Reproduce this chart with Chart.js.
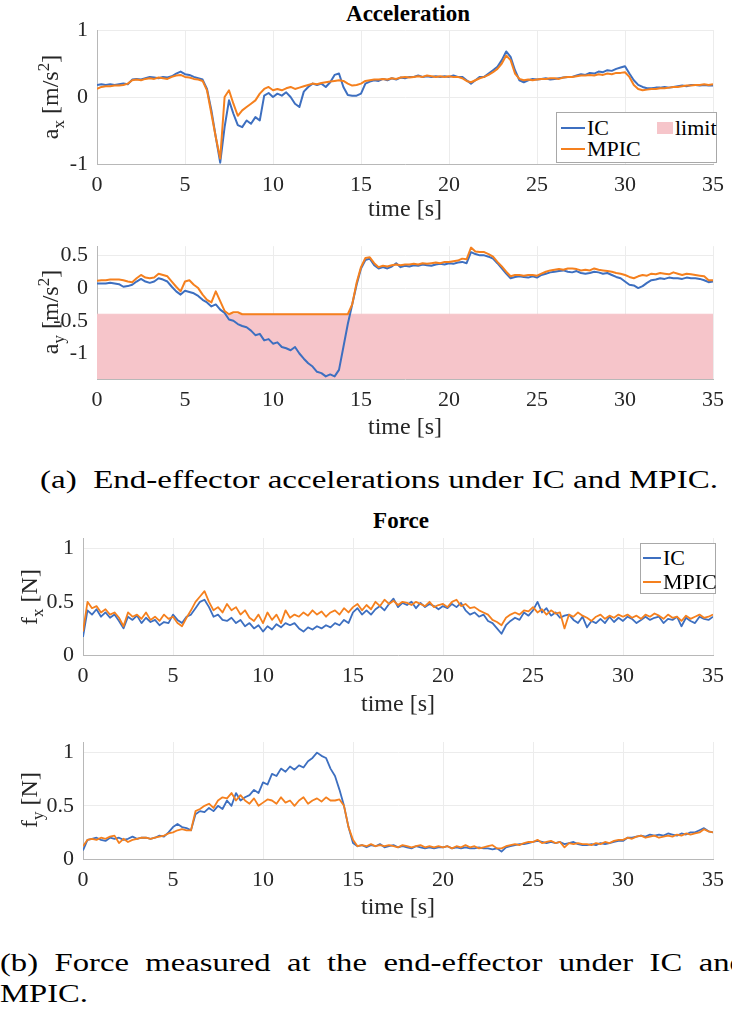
<!DOCTYPE html>
<html>
<head>
<meta charset="UTF-8">
<title>Acceleration and force, IC vs MPIC</title>
<script src="https://cdn.jsdelivr.net/npm/chart.js"></script>
<style>
  body { margin:0; background:#fff; width:732px; height:1016px; overflow:hidden; position:relative;
         font-family:"Liberation Serif", "Times New Roman", serif; color:#000; }
  canvas { position:absolute; left:0; }
  .ttl { position:absolute; font-weight:bold; font-size:23px; transform:translate(-50%,-50%); white-space:nowrap; }
  .ylab { position:absolute; font-size:24px; line-height:1; color:#262626; white-space:nowrap;
          transform:translate(-50%,-50%) rotate(-90deg); }
  .ylab sub, .ylab sup { font-size:17px; line-height:0; }
  .legend { position:absolute; border:1px solid #a8a8a8; background:#fff; }
  .lg-line { position:absolute; height:2px; }
  .lg-patch { position:absolute; }
  .lg-text { position:absolute; font-size:22px; line-height:1; transform:translateY(-50%); white-space:nowrap; }
  .cap { position:absolute; left:0; font-size:25px; line-height:1; white-space:nowrap; transform-origin:0 50%; }
  .cap-row { display:flex; justify-content:space-between; }
</style>
</head>
<body>
  <div class="ttl" style="left:408px; top:14px;">Acceleration</div>
  <canvas id="axChart" width="732" height="224" style="top:0px;"></canvas>
  <canvas id="ayChart" width="732" height="218" style="top:224px;"></canvas>
  <div class="ylab" style="left:50px; top:97px;">a<sub>x</sub> [m/s<sup>2</sup>]</div>
  <div class="ylab" style="left:50px; top:312px;">a<sub>y</sub> [m/s<sup>2</sup>]</div>
  <div id="legAcc" class="legend" style="left:556px; top:112px; width:159px; height:49px;"></div>

  <div id="capA" class="cap" style="top:479px;">(a)&nbsp; End-effector accelerations under IC and MPIC.</div>

  <div class="ttl" style="left:401px; top:521px;">Force</div>
  <canvas id="fxChart" width="732" height="219" style="top:500px;"></canvas>
  <canvas id="fyChart" width="732" height="203" style="top:719px;"></canvas>
  <div class="ylab" style="left:29px; top:597px;">f<sub>x</sub> [N]</div>
  <div class="ylab" style="left:29px; top:800px;">f<sub>y</sub> [N]</div>
  <div id="legForce" class="legend" style="left:640px; top:543px; width:74px; height:49px;"></div>

  <div id="capB1" class="cap cap-row" style="top:962px;">
    <span>(b)</span><span>Force</span><span>measured</span><span>at</span><span>the</span><span>end-effector</span><span>under</span><span>IC</span><span>and</span>
  </div>
  <div id="capB2" class="cap" style="top:993px;">MPIC.</div>

<script>
  // sample spacing of all recorded signals (s)
  const TIME_STEP = 0.25;
  const X_TICKS  = [0, 5, 10, 15, 20, 25, 30, 35];
  const AX_TICKS = [-1, 0, 1];
  const AY_TICKS = [-1, -0.5, 0, 0.5];
  const F_TICKS  = [0, 0.5, 1];
  const AY_LIMIT = -0.4;

  // a_x [m/s^2], one row = 2 s
  const axIC = [
    0.18, 0.19, 0.18, 0.19, 0.18, 0.19, 0.20, 0.19,
    0.26, 0.27, 0.26, 0.28, 0.30, 0.29, 0.28, 0.30,
    0.29, 0.31, 0.35, 0.38, 0.34, 0.33, 0.30, 0.28,
    0.26, 0.12, -0.20, -0.60, -0.98, -0.45, -0.05, -0.25,
    -0.42, -0.45, -0.35, -0.40, -0.30, -0.35, 0.02, 0.06,
    0.00, 0.05, 0.02, 0.07, 0.00, -0.10, -0.15, 0.08,
    0.15, 0.20, 0.18, 0.20, 0.15, 0.22, 0.33, 0.35,
    0.15, 0.03, 0.02, 0.02, 0.05, 0.20, 0.23, 0.25,
    0.24, 0.27, 0.25, 0.28, 0.26, 0.29, 0.28, 0.30,
    0.30, 0.32, 0.30, 0.31, 0.30, 0.31, 0.30, 0.31,
    0.30, 0.32, 0.30, 0.30, 0.25, 0.20, 0.25, 0.30,
    0.30, 0.35, 0.40, 0.45, 0.55, 0.68, 0.60, 0.40,
    0.25, 0.22, 0.25, 0.27, 0.26, 0.27, 0.28, 0.26,
    0.27, 0.28, 0.29, 0.30, 0.30, 0.32, 0.34, 0.33,
    0.36, 0.35, 0.38, 0.37, 0.40, 0.39, 0.42, 0.44,
    0.46, 0.35, 0.25, 0.18, 0.15, 0.13, 0.13, 0.14,
    0.14, 0.15, 0.14, 0.15, 0.16, 0.17, 0.16, 0.18,
    0.18, 0.17, 0.18, 0.17, 0.17
  ];
  const axMPIC = [
    0.12, 0.15, 0.16, 0.16, 0.17, 0.17, 0.18, 0.20,
    0.25, 0.26, 0.25, 0.27, 0.28, 0.27, 0.29, 0.28,
    0.27, 0.30, 0.32, 0.33, 0.30, 0.29, 0.27, 0.26,
    0.24, 0.10, -0.25, -0.60, -0.92, 0.00, 0.10, -0.10,
    -0.28, -0.20, -0.15, -0.10, -0.05, 0.05, 0.12, 0.15,
    0.10, 0.12, 0.10, 0.13, 0.15, 0.12, 0.14, 0.16,
    0.18, 0.20, 0.19, 0.21, 0.22, 0.23, 0.24, 0.25,
    0.24, 0.20, 0.17, 0.18, 0.20, 0.24, 0.25, 0.26,
    0.26, 0.27, 0.26, 0.28, 0.27, 0.29, 0.30, 0.29,
    0.30, 0.31, 0.30, 0.32, 0.31, 0.30, 0.31, 0.30,
    0.31, 0.30, 0.30, 0.28, 0.24, 0.22, 0.25, 0.28,
    0.30, 0.33, 0.37, 0.42, 0.50, 0.62, 0.55, 0.35,
    0.27, 0.25, 0.26, 0.25, 0.26, 0.27, 0.27, 0.28,
    0.28, 0.27, 0.29, 0.30, 0.30, 0.31, 0.32, 0.32,
    0.33, 0.32, 0.34, 0.33, 0.35, 0.34, 0.36, 0.36,
    0.37, 0.30, 0.18, 0.12, 0.10, 0.11, 0.12, 0.12,
    0.13, 0.13, 0.14, 0.15, 0.15, 0.16, 0.17, 0.17,
    0.18, 0.18, 0.19, 0.18, 0.19
  ];

  // a_y [m/s^2]
  const ayIC = [
    0.07, 0.07, 0.07, 0.08, 0.07, 0.06, 0.02, 0.03,
    0.05, 0.10, 0.14, 0.10, 0.08, 0.10, 0.15, 0.13,
    0.10, 0.02, -0.05, -0.10, -0.04, -0.06, -0.08, -0.12,
    -0.18, -0.22, -0.28, -0.25, -0.33, -0.38, -0.48, -0.50,
    -0.55, -0.58, -0.60, -0.65, -0.72, -0.70, -0.80, -0.78,
    -0.85, -0.83, -0.90, -0.92, -0.95, -0.90, -1.00, -1.08,
    -1.15, -1.20, -1.28, -1.30, -1.35, -1.32, -1.35, -1.25,
    -0.90, -0.55, -0.25, 0.05, 0.30, 0.43, 0.45, 0.35,
    0.30, 0.32, 0.30, 0.33, 0.38, 0.32, 0.34, 0.33,
    0.35, 0.34, 0.36, 0.35, 0.34, 0.36, 0.37, 0.36,
    0.38, 0.37, 0.39, 0.40, 0.38, 0.55, 0.52, 0.50,
    0.50, 0.48, 0.45, 0.38, 0.30, 0.22, 0.15, 0.17,
    0.18, 0.17, 0.16, 0.18, 0.16, 0.20, 0.22, 0.24,
    0.25, 0.26, 0.27, 0.25, 0.24, 0.26, 0.23, 0.22,
    0.23, 0.25, 0.24, 0.22, 0.23, 0.20, 0.17, 0.15,
    0.10, 0.05, 0.04, 0.00, 0.03, 0.08, 0.12, 0.13,
    0.15, 0.14, 0.16, 0.15, 0.15, 0.14, 0.16, 0.15,
    0.15, 0.14, 0.12, 0.09, 0.10
  ];
  const ayMPIC = [
    0.11, 0.12, 0.12, 0.13, 0.13, 0.13, 0.12, 0.10,
    0.09, 0.15, 0.20, 0.16, 0.15, 0.16, 0.22, 0.20,
    0.18, 0.10, 0.02, -0.05, 0.10, 0.12, 0.05, 0.00,
    -0.10, -0.18, -0.22, -0.05, -0.20, -0.35, -0.40, -0.37,
    -0.37, -0.40, -0.40, -0.40, -0.40, -0.40, -0.40, -0.40,
    -0.40, -0.40, -0.40, -0.40, -0.40, -0.40, -0.40, -0.40,
    -0.40, -0.40, -0.40, -0.40, -0.40, -0.40, -0.40, -0.40,
    -0.40, -0.40, -0.25, 0.08, 0.32, 0.46, 0.47, 0.38,
    0.32, 0.34, 0.33, 0.35, 0.36, 0.35, 0.36, 0.36,
    0.37, 0.36, 0.38, 0.37, 0.38, 0.39, 0.38, 0.40,
    0.40, 0.41, 0.42, 0.45, 0.44, 0.62, 0.56, 0.55,
    0.55, 0.52, 0.48, 0.40, 0.33, 0.25, 0.18, 0.20,
    0.20, 0.19, 0.20, 0.20, 0.19, 0.22, 0.25, 0.27,
    0.28, 0.29, 0.28, 0.30, 0.30, 0.29, 0.27, 0.28,
    0.27, 0.30, 0.28, 0.27, 0.26, 0.25, 0.23, 0.22,
    0.20, 0.17, 0.15, 0.18, 0.20, 0.19, 0.22, 0.21,
    0.23, 0.22, 0.21, 0.24, 0.22, 0.20, 0.22, 0.21,
    0.20, 0.19, 0.18, 0.12, 0.12
  ];

  // f_x [N]
  const fxIC = [
    0.17, 0.42, 0.38, 0.43, 0.36, 0.40, 0.35, 0.38,
    0.32, 0.25, 0.36, 0.33, 0.37, 0.30, 0.35, 0.31,
    0.33, 0.28, 0.31, 0.30, 0.38, 0.33, 0.30, 0.36,
    0.38, 0.44, 0.50, 0.52, 0.45, 0.36, 0.38, 0.33,
    0.32, 0.35, 0.30, 0.33, 0.27, 0.30, 0.25, 0.28,
    0.22, 0.27, 0.24, 0.29, 0.26, 0.30, 0.28, 0.30,
    0.25, 0.22, 0.26, 0.24, 0.27, 0.25, 0.28, 0.26,
    0.30, 0.28, 0.33, 0.30, 0.40, 0.44, 0.38, 0.42,
    0.38, 0.43, 0.46, 0.42, 0.48, 0.53, 0.45, 0.49,
    0.47, 0.50, 0.44, 0.49, 0.45, 0.48, 0.46, 0.43,
    0.46, 0.44, 0.48, 0.45, 0.49, 0.42, 0.38, 0.40,
    0.36, 0.38, 0.32, 0.30, 0.25, 0.20, 0.28, 0.32,
    0.35, 0.33, 0.40, 0.37, 0.42, 0.50, 0.40, 0.44,
    0.37, 0.40, 0.35, 0.37, 0.38, 0.33, 0.30, 0.36,
    0.26, 0.32, 0.30, 0.34, 0.30, 0.36, 0.31, 0.35,
    0.32, 0.36, 0.34, 0.30, 0.33, 0.36, 0.33, 0.35,
    0.36, 0.30, 0.34, 0.33, 0.36, 0.27, 0.35, 0.32,
    0.30, 0.36, 0.34, 0.33, 0.36
  ];
  const fxMPIC = [
    0.22, 0.50, 0.44, 0.46, 0.40, 0.43, 0.38, 0.40,
    0.35, 0.27, 0.40, 0.36, 0.38, 0.34, 0.40, 0.33,
    0.36, 0.32, 0.38, 0.34, 0.36, 0.30, 0.27, 0.35,
    0.42, 0.50, 0.55, 0.60, 0.50, 0.42, 0.45, 0.40,
    0.48, 0.42, 0.45, 0.38, 0.42, 0.35, 0.32, 0.38,
    0.30, 0.40, 0.33, 0.38, 0.30, 0.42, 0.35, 0.38,
    0.36, 0.40, 0.37, 0.42, 0.38, 0.41, 0.36, 0.40,
    0.42, 0.38, 0.44, 0.40, 0.45, 0.48, 0.42, 0.47,
    0.43, 0.50, 0.46, 0.52, 0.48, 0.51, 0.47, 0.50,
    0.49, 0.47, 0.50, 0.48, 0.46, 0.50, 0.45, 0.47,
    0.48, 0.45, 0.50, 0.52, 0.46, 0.48, 0.44, 0.45,
    0.42, 0.40, 0.38, 0.33, 0.31, 0.28, 0.35, 0.38,
    0.40, 0.38, 0.42, 0.41, 0.45, 0.40, 0.43, 0.38,
    0.42, 0.39, 0.40, 0.25, 0.38, 0.36, 0.40, 0.37,
    0.35, 0.32, 0.36, 0.38, 0.34, 0.37, 0.35, 0.38,
    0.36, 0.38, 0.35, 0.37, 0.34, 0.38, 0.36, 0.39,
    0.37, 0.34, 0.38, 0.35, 0.36, 0.32, 0.37, 0.34,
    0.36, 0.38, 0.35, 0.36, 0.38
  ];

  // f_y [N]
  const fyIC = [
    0.08, 0.18, 0.19, 0.20, 0.18, 0.17, 0.20, 0.19,
    0.20, 0.18, 0.19, 0.21, 0.19, 0.20, 0.20, 0.19,
    0.20, 0.22, 0.21, 0.25, 0.30, 0.33, 0.30, 0.29,
    0.27, 0.42, 0.45, 0.44, 0.48, 0.45, 0.50, 0.47,
    0.55, 0.50, 0.62, 0.55, 0.58, 0.60, 0.65, 0.62,
    0.72, 0.70, 0.80, 0.78, 0.85, 0.82, 0.87, 0.84,
    0.88, 0.86, 0.92, 0.95, 1.00, 0.97, 0.95, 0.85,
    0.78, 0.65, 0.50, 0.30, 0.15, 0.12, 0.13, 0.11,
    0.13, 0.12, 0.14, 0.11, 0.12, 0.13, 0.11, 0.12,
    0.11, 0.10, 0.12, 0.11, 0.10, 0.11, 0.10, 0.11,
    0.11, 0.12, 0.10, 0.11, 0.10, 0.11, 0.10, 0.10,
    0.11, 0.10, 0.10, 0.09, 0.10, 0.07, 0.11, 0.12,
    0.13, 0.14, 0.14, 0.15, 0.16, 0.17, 0.16, 0.15,
    0.16, 0.15, 0.16, 0.14, 0.15, 0.16, 0.14, 0.13,
    0.13, 0.14, 0.13, 0.15, 0.14, 0.15, 0.16, 0.17,
    0.17, 0.20, 0.20, 0.21, 0.22, 0.21, 0.23, 0.22,
    0.23, 0.22, 0.24, 0.23, 0.22, 0.24, 0.23, 0.25,
    0.25, 0.27, 0.29, 0.26, 0.25
  ];
  const fyMPIC = [
    0.12, 0.18, 0.19, 0.18, 0.20, 0.19, 0.21, 0.22,
    0.15, 0.19, 0.16, 0.18, 0.19, 0.20, 0.20, 0.19,
    0.20, 0.21, 0.22, 0.24, 0.25, 0.27, 0.28, 0.27,
    0.27, 0.45, 0.47, 0.50, 0.52, 0.48, 0.55, 0.58,
    0.57, 0.62, 0.55, 0.60, 0.55, 0.52, 0.57, 0.50,
    0.53, 0.56, 0.55, 0.52, 0.58, 0.53, 0.55, 0.50,
    0.55, 0.58, 0.52, 0.55, 0.57, 0.54, 0.58, 0.55,
    0.55, 0.56, 0.50, 0.30, 0.18, 0.12, 0.13, 0.12,
    0.14, 0.12, 0.13, 0.12, 0.13, 0.12, 0.11, 0.13,
    0.12, 0.11, 0.12, 0.13, 0.11, 0.12, 0.11, 0.12,
    0.11, 0.12, 0.10, 0.12, 0.11, 0.13, 0.11, 0.12,
    0.10, 0.11, 0.12, 0.13, 0.10, 0.10, 0.12, 0.13,
    0.14, 0.13, 0.15, 0.16, 0.16, 0.18, 0.15, 0.16,
    0.17, 0.15, 0.16, 0.11, 0.15, 0.14, 0.15, 0.14,
    0.14, 0.13, 0.15, 0.14, 0.16, 0.15, 0.17, 0.18,
    0.18, 0.20, 0.19, 0.21, 0.22, 0.20, 0.21, 0.22,
    0.20, 0.21, 0.22, 0.21, 0.23, 0.22, 0.24, 0.23,
    0.24, 0.25, 0.28, 0.26, 0.25
  ];

  const BLUE = '#3d6fc0';
  const ORANGE = '#f5801e';
  const LIMIT_FILL = '#f6c5ca';
  const GRID = '#ececec';
  const AXIS = '#b8b8b8';
  const TEXT = '#262626';
  const FONT = '"Liberation Serif", "Times New Roman", serif';

  const toPoints = vals => vals.map((y, i) => ({ x: i * TIME_STEP, y: y }));

  function signal(label, vals, color, width, order) {
    return { label, data: toPoints(vals), borderColor: color, backgroundColor: color,
             borderWidth: width, pointRadius: 0, fill: false, order: order };
  }

  function makeChart(id, datasets, o) {
    return new Chart(document.getElementById(id), {
      type: 'line',
      data: { datasets },
      options: {
        responsive: false,
        animation: false,
        devicePixelRatio: 1,
        layout: { padding: { top: o.padTop, right: 13, left: 0, bottom: 0 } },
        plugins: { legend: { display: false }, tooltip: { enabled: false } },
        elements: { line: { tension: 0, borderJoinStyle: 'round' } },
        scales: {
          x: {
            type: 'linear', min: 0, max: 35,
            afterBuildTicks: s => { s.ticks = X_TICKS.map(v => ({ value: v })); },
            afterFit: s => { s.height = o.xHeight; },
            grid: { color: GRID, drawTicks: false },
            border: { color: AXIS },
            ticks: { padding: 8, color: TEXT, font: { family: FONT, size: 22 }, maxRotation: 0,
                     callback: v => String(v) },
            title: { display: true, text: 'time [s]', color: TEXT, padding: 0,
                     font: { family: FONT, size: 24 } }
          },
          y: {
            min: o.yMin, max: o.yMax,
            afterBuildTicks: s => { s.ticks = o.yTicks.map(v => ({ value: v })); },
            afterFit: s => { s.width = o.yWidth; },
            grid: { color: GRID, drawTicks: false },
            border: { color: AXIS },
            ticks: { padding: 9, color: TEXT, font: { family: FONT, size: 22 },
                     callback: v => String(v) }
          }
        }
      }
    });
  }

  makeChart('axChart', [
    signal('MPIC', axMPIC, ORANGE, 2, 0),
    signal('IC', axIC, BLUE, 2, 1)
  ], { padTop: 30, xHeight: 60, yWidth: 97, yMin: -1, yMax: 1, yTicks: AX_TICKS });

  const limitSet = {
    label: 'limit',
    data: [{ x: 0, y: AY_LIMIT }, { x: 35, y: AY_LIMIT }],
    borderColor: LIMIT_FILL, backgroundColor: LIMIT_FILL,
    borderWidth: 1, pointRadius: 0, fill: 'start', order: 2
  };
  const ayChart = makeChart('ayChart', [
    signal('MPIC', ayMPIC, ORANGE, 2, 0),
    signal('IC', ayIC, BLUE, 2, 1),
    limitSet
  ], { padTop: 21, xHeight: 63, yWidth: 97, yMin: -1.39, yMax: 0.64, yTicks: AY_TICKS });

  const fxChart = makeChart('fxChart', [
    signal('MPIC', fxMPIC, ORANGE, 1.8, 0),
    signal('IC', fxIC, BLUE, 1.8, 1)
  ], { padTop: 38, xHeight: 64, yWidth: 83, yMin: 0, yMax: 1.1, yTicks: F_TICKS });

  makeChart('fyChart', [
    signal('MPIC', fyMPIC, ORANGE, 1.8, 0),
    signal('IC', fyIC, BLUE, 1.8, 1)
  ], { padTop: 23, xHeight: 63, yWidth: 83, yMin: 0, yMax: 1.1, yTicks: F_TICKS });

  // legends built from the chart datasets; positions are relative to the legend box
  function addItem(box, ds, x, y, sampleW) {
    if (ds.fill === 'start') {
      const p = document.createElement('div');
      p.className = 'lg-patch';
      p.style.cssText = `left:${x}px; top:${y - 6}px; width:${sampleW}px; height:12px; background:${ds.backgroundColor};`;
      box.appendChild(p);
    } else {
      const l = document.createElement('div');
      l.className = 'lg-line';
      l.style.cssText = `left:${x}px; top:${y - 1}px; width:${sampleW}px; background:${ds.borderColor};`;
      box.appendChild(l);
    }
    const t = document.createElement('div');
    t.className = 'lg-text';
    t.textContent = ds.label;
    t.style.left = (x + sampleW + 2) + 'px';
    t.style.top = y + 'px';
    box.appendChild(t);
  }
  const find = (chart, name) => chart.data.datasets.find(d => d.label === name);

  const legAcc = document.getElementById('legAcc');
  addItem(legAcc, find(ayChart, 'IC'), 4, 15, 24);
  addItem(legAcc, find(ayChart, 'MPIC'), 4, 36, 24);
  addItem(legAcc, find(ayChart, 'limit'), 100, 15, 16);

  const legForce = document.getElementById('legForce');
  addItem(legForce, find(fxChart, 'IC'), 2, 14, 18);
  addItem(legForce, find(fxChart, 'MPIC'), 2, 38, 18);

  // captions: the original uses a wide roman face, so stretch to the measured widths
  function stretch(el, targetW, left) {
    const w = el.getBoundingClientRect().width;
    el.style.left = left + 'px';
    el.style.transform = `translateY(-50%) scaleX(${targetW / w})`;
  }
  stretch(document.getElementById('capA'), 678, 40);
  const b2 = document.getElementById('capB2');
  const k = 88 / b2.getBoundingClientRect().width;
  b2.style.transform = `translateY(-50%) scaleX(${k})`;
  const b1 = document.getElementById('capB1');
  b1.style.width = (746 / k) + 'px';
  b1.style.transform = `translateY(-50%) scaleX(${k})`;
</script>
</body>
</html>
